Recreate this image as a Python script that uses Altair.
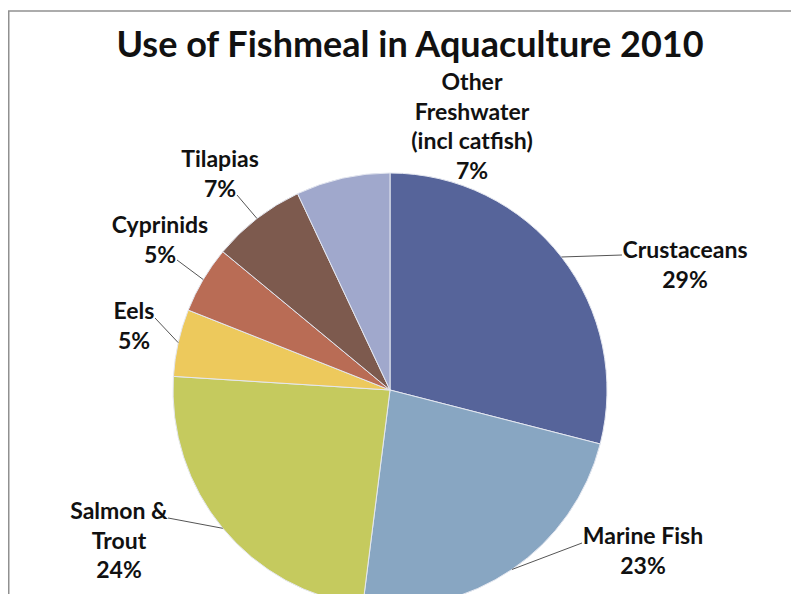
import altair as alt
import pandas as pd

# ---- data ----
categories = ["Crustaceans", "Marine Fish", "Salmon & Trout", "Eels",
              "Cyprinids", "Tilapias", "Other Freshwater (incl catfish)"]
shares = [29, 23, 24, 5, 5, 7, 7]
label_names = ["Crustaceans", "Marine Fish", "Salmon &\nTrout", "Eels",
               "Cyprinids", "Tilapias", "Other\nFreshwater\n(incl catfish)"]
title_text = "Use of Fishmeal in Aquaculture 2010"

# ---- styles / layout ----
colors = ["#56649a", "#88a6c2", "#c5ca5e", "#edc95c", "#b96c55", "#7d5a4e", "#a0a8cc"]
label_x = [677, 635, 111, 126, 152, 212, 464]
label_y = [243, 529, 504, 304, 218, 152, 75]
leader_x = [614, 574, 160, 147, 169, 229, None]
leader_y = [247, 535, 510, 310, 252, 187, None]

W, H = 783, 586
CX, CY, R = 382, 382, 217
FONT = "Lato"

df = pd.DataFrame({
    "category": categories,
    "share": shares,
    "order": list(range(len(categories))),
    "label": [f"{n}\n{s}%" for n, s in zip(label_names, shares)],
    "lx": label_x,
    "ly": label_y,
    "ax": leader_x,
    "ay": leader_y,
})

base = alt.Chart(df)

pie = base.mark_arc(radius=R, stroke="#e4e7f0", strokeWidth=1).encode(
    theta=alt.Theta("share:Q", stack=True),
    order=alt.Order("order:Q"),
    color=alt.Color("category:N",
                    scale=alt.Scale(domain=categories, range=colors),
                    legend=None),
    x=alt.value(CX),
    y=alt.value(CY),
)

leaders = base.transform_joinaggregate(
    total="sum(share)"
).transform_window(
    cum="sum(share)", sort=[alt.SortField("order")], frame=[None, 0]
).transform_calculate(
    mid="(datum.cum - datum.share / 2) / datum.total * 2 * PI",
    ex=f"{CX} + {R} * sin(datum.mid)",
    ey=f"{CY} - {R} * cos(datum.mid)",
).transform_filter(
    "isValid(datum.ax)"
).mark_rule(color="#555555", strokeWidth=1).encode(
    x=alt.X("ex:Q", scale=None),
    y=alt.Y("ey:Q", scale=None),
    x2="ax:Q",
    y2="ay:Q",
)

labels = base.mark_text(
    font=FONT, fontWeight="bold", fontSize=23, lineBreak="\n", lineHeight=29.5,
    align="center", baseline="middle", color="#111111",
).encode(
    x=alt.X("lx:Q", scale=None),
    y=alt.Y("ly:Q", scale=None),
    text="label:N",
)

title = alt.Chart(pd.DataFrame({"t": [title_text]})).mark_text(
    font=FONT, fontWeight="bold", fontSize=36, align="center",
    baseline="alphabetic", color="#111111",
).encode(x=alt.value(402), y=alt.value(49), text="t:N")

frame_df = pd.DataFrame({"k": [0]})
border_left = alt.Chart(frame_df).mark_rule(color="#909090", strokeWidth=1.5).encode(
    x=alt.value(0.75), y=alt.value(3), y2=alt.value(H))
border_top = alt.Chart(frame_df).mark_rule(color="#909090", strokeWidth=1.5).encode(
    x=alt.value(0), x2=alt.value(W), y=alt.value(3))

chart = alt.layer(border_left, border_top, pie, leaders, labels, title).properties(
    width=W, height=H, autosize="none", padding=0
).configure_view(stroke=None)

chart.save("out.html", embed_options={"renderer": "svg", "actions": False})
